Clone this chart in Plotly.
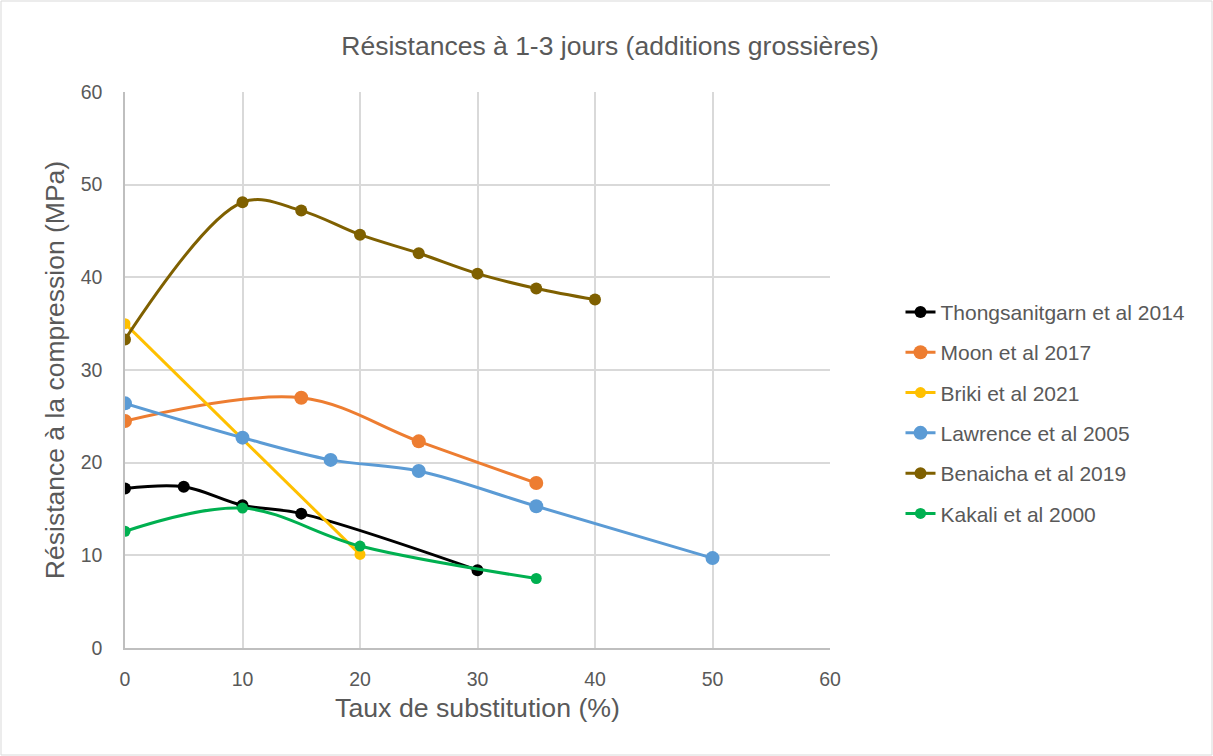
import plotly.graph_objects as go

# data
thong_x = [0, 5, 10, 15, 30]
thong_y = [17.2, 17.4, 15.4, 14.5, 8.4]

moon_x = [0, 15, 25, 35]
moon_y = [24.5, 27.0, 22.3, 17.8]

briki_x = [0, 20]
briki_y = [35.0, 10.1]

lawrence_x = [0, 10, 17.5, 25, 35, 50]
lawrence_y = [26.4, 22.7, 20.3, 19.1, 15.3, 9.7]

benaicha_x = [0, 10, 15, 20, 25, 30, 35, 40]
benaicha_y = [33.3, 48.1, 47.2, 44.6, 42.6, 40.4, 38.8, 37.6]

kakali_x = [0, 10, 20, 35]
kakali_y = [12.6, 15.1, 11.0, 7.5]

series = [
    ("Thongsanitgarn et al 2014", thong_x, thong_y, "#000000", 12, "spline"),
    ("Moon et al 2017", moon_x, moon_y, "#ed7d31", 14, "spline"),
    ("Briki et al 2021", briki_x, briki_y, "#ffc000", 11, "linear"),
    ("Lawrence et al 2005", lawrence_x, lawrence_y, "#5b9bd5", 14, "spline"),
    ("Benaicha et al 2019", benaicha_x, benaicha_y, "#7f6000", 12, "spline"),
    ("Kakali et al 2000", kakali_x, kakali_y, "#00b050", 11, "spline"),
]

font = "Liberation Sans, Arial, sans-serif"
grey = "#595959"

fig = go.Figure()
for i, (name, xs, ys, color, size, shape) in enumerate(series):
    fig.add_trace(
        go.Scatter(
            x=xs,
            y=ys,
            name=name,
            legendgroup=f"g{i}",
            mode="lines+markers",
            line=dict(color=color, width=3, shape=shape, smoothing=1),
            marker=dict(color=color, size=size),
        )
    )

axis_common = dict(
    range=[0, 60],
    dtick=10,
    showgrid=True,
    gridcolor="#d9d9d9",
    gridwidth=1.5,
    zeroline=False,
    tickfont=dict(size=19.5, color=grey, family=font),
    ticks="",
    showline=True,
    linecolor="#bfbfbf",
    linewidth=1.5,
)

fig.update_layout(
    width=1213,
    height=756,
    paper_bgcolor="white",
    plot_bgcolor="white",
    margin=dict(l=125, r=383, t=92, b=108),
    title=dict(
        text="Résistances à 1-3 jours (additions grossières)",
        x=0.503,
        xanchor="center",
        y=0.94,
        yanchor="middle",
        font=dict(size=26.5, color=grey, family=font),
    ),
    xaxis=dict(
        axis_common,
        ticklabelstandoff=13,
        title=dict(text="Taux de substitution (%)", font=dict(size=26.7, color=grey, family=font), standoff=9),
    ),
    yaxis=dict(
        axis_common,
        ticklabelstandoff=17,
        title=dict(text="Résistance à la compression (MPa)", font=dict(size=26.5, color=grey, family=font), standoff=8),
    ),
    legend=dict(
        x=1.1,
        xanchor="left",
        y=0.423,
        yanchor="middle",
        font=dict(size=21, color=grey, family=font),
        tracegroupgap=10,
        bgcolor="rgba(0,0,0,0)",
    ),
    shapes=[
        dict(
            type="rect",
            xref="paper",
            yref="paper",
            x0=-124 / 705,
            x1=1 + 382 / 705,
            y0=-107 / 556,
            y1=1 + 91 / 556,
            line=dict(color="#d9d9d9", width=1),
        )
    ],
)

fig.write_html("out.html", config={"displayModeBar": False})

# drop the default page margin so the chart sits at the window's corner
with open("out.html", encoding="utf-8") as f:
    page = f.read()
page = page.replace("<body>", '<body style="margin:0">', 1)
with open("out.html", "w", encoding="utf-8") as f:
    f.write(page)
